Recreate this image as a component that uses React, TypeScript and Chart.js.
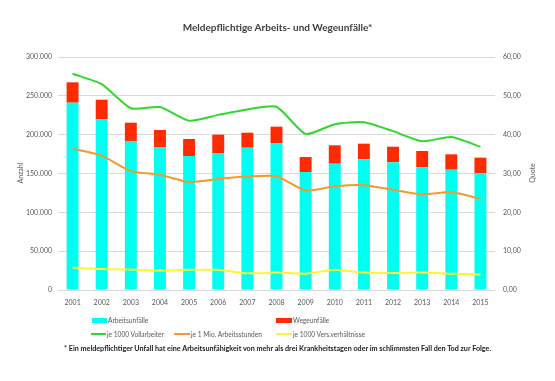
import React, { useEffect, useRef } from "react";
import { Chart, registerables } from "chart.js";

Chart.register(...registerables);

const years = ["2001","2002","2003","2004","2005","2006","2007","2008","2009","2010","2011","2012","2013","2014","2015"];
const arbeitsunfaelle = [241200,220200,191900,184100,172500,176400,183200,189300,151900,162600,168300,164400,158000,154900,150600];
const wegeunfaelle = [26200,24800,23500,21900,21900,23600,19300,21000,19300,23700,20100,20100,21000,19800,19800];
const je1000Vollarbeiter = [55.7,53.0,46.8,47.1,43.6,45.1,46.5,47.2,40.2,42.7,43.2,40.9,38.3,39.4,36.9];
const je1MioArbeitsstunden = [36.4,34.6,30.6,29.7,27.8,28.6,29.2,29.3,25.6,26.7,27.0,25.8,24.6,25.2,23.5];
const je1000VersVerh = [5.8,5.4,5.3,5.0,5.2,5.2,4.3,4.5,4.2,5.2,4.5,4.4,4.5,4.2,4.0];

const seriesNames = ["Arbeitsunfälle","Wegeunfälle","je 1000 Vollarbeiter","je 1 Mio. Arbeitsstunden","je 1000 Vers.verhältnisse"];
const colors = ["#00FFF0","#FF2A00","#2FD82F","#F29A2E","#FFF533"];
const axisTitles = ["Anzahl", "Quote"];

const title = "Meldepflichtige Arbeits- und Wegeunfälle*";
const footnote = "* Ein meldepflichtiger Unfall hat eine Arbeitsunfähigkeit von mehr als drei Krankheitstagen oder im schlimmsten Fall den Tod zur Folge.";

const FONT = "Lato, 'Open Sans', sans-serif";

export default function App() {
  const ref = useRef<HTMLCanvasElement | null>(null);
  useEffect(() => {
    if (!ref.current) return;
    const chart = new Chart(ref.current, {
      type: "bar",
      data: {
        labels: years,
        datasets: [
          { type: "bar", label: seriesNames[0], data: arbeitsunfaelle, backgroundColor: colors[0], yAxisID: "y", stack: "s", order: 2, barPercentage: 0.41, categoryPercentage: 1 },
          { type: "bar", label: seriesNames[1], data: wegeunfaelle, backgroundColor: colors[1], yAxisID: "y", stack: "s", order: 2, barPercentage: 0.41, categoryPercentage: 1 },
          { type: "line", label: seriesNames[2], data: je1000Vollarbeiter, borderColor: colors[2], borderWidth: 2, pointRadius: 0, yAxisID: "y1", tension: 0.2, order: 1 },
          { type: "line", label: seriesNames[3], data: je1MioArbeitsstunden, borderColor: colors[3], borderWidth: 2, pointRadius: 0, yAxisID: "y1", tension: 0.2, order: 1 },
          { type: "line", label: seriesNames[4], data: je1000VersVerh, borderColor: colors[4], borderWidth: 2, pointRadius: 0, yAxisID: "y1", tension: 0.2, order: 1 },
        ] as any,
      },
      options: {
        animation: false,
        responsive: false,
        maintainAspectRatio: false,
        layout: { padding: { top: 57, left: 0, right: 0, bottom: 71 } },
        plugins: { legend: { display: false }, tooltip: { enabled: false }, title: { display: false } },
        scales: {
          x: {
            stacked: true,
            grid: { display: false },
            border: { display: false },
            ticks: { color: "#595959", font: { family: FONT, size: 7 }, padding: 1, maxRotation: 0 },
            afterFit: (s: any) => { s.height = 20; },
          },
          y: {
            position: "left",
            stacked: true,
            min: 0,
            max: 300000,
            grid: { color: "#D9D9D9", drawTicks: false },
            border: { display: false },
            ticks: {
              stepSize: 50000,
              padding: 6,
              color: "#595959",
              font: { family: FONT, size: 7 },
              callback: (v: any) => Number(v).toLocaleString("de-DE"),
            },
            afterFit: (s: any) => { s.width = 58; },
          },
          y1: {
            position: "right",
            stacked: false,
            min: 0,
            max: 60,
            grid: { display: false, drawTicks: false },
            border: { display: false },
            ticks: {
              stepSize: 10,
              padding: 8,
              color: "#595959",
              font: { family: FONT, size: 7 },
              callback: (v: any) => Number(v).toLocaleString("de-DE", { minimumFractionDigits: 2, maximumFractionDigits: 2 }),
            },
            afterFit: (s: any) => { s.width = 60; },
          },
        },
      } as any,
    });
    return () => chart.destroy();
  }, []);

  const txt: React.CSSProperties = { position: "absolute", fontFamily: FONT, fontSize: 6.6, color: "#595959", whiteSpace: "nowrap", lineHeight: "8px" };
  const box = (left: number, top: number, w: number, h: number, c: string): React.CSSProperties => ({ position: "absolute", left, top, width: w, height: h, background: c });
  const vtitle = (cx: number, cy: number): React.CSSProperties => ({ ...txt, fontSize: 7, left: cx - 30, top: cy - 4, width: 60, textAlign: "center", transform: "rotate(-90deg)" });

  return (
    <div style={{ position: "absolute", left: 0, top: 0, width: 555, height: 381, background: "#fff", overflow: "hidden" }}>
      <canvas ref={ref} width={555} height={381} style={{ position: "absolute", left: 0, top: 0, width: 555, height: 381 }} />
      <div style={{ position: "absolute", left: 0, width: 555, top: 21, textAlign: "center", fontFamily: FONT, fontWeight: 700, fontSize: 10, color: "#404040", lineHeight: "12px" }}>{title}</div>
      <div style={vtitle(20, 173)}>{axisTitles[0]}</div>
      <div style={vtitle(532, 173)}>{axisTitles[1]}</div>
      <div style={box(92, 318, 15, 5, colors[0])} />
      <div style={{ ...txt, left: 108, top: 316 }}>{seriesNames[0]}</div>
      <div style={box(276, 318, 16, 5, colors[1])} />
      <div style={{ ...txt, left: 293, top: 316 }}>{seriesNames[1]}</div>
      <div style={box(91, 333, 15, 2, colors[2])} />
      <div style={{ ...txt, left: 107, top: 330 }}>{seriesNames[2]}</div>
      <div style={box(174, 333, 16, 2, colors[3])} />
      <div style={{ ...txt, left: 191, top: 330 }}>{seriesNames[3]}</div>
      <div style={box(276, 333, 16, 2, colors[4])} />
      <div style={{ ...txt, left: 293, top: 330 }}>{seriesNames[4]}</div>
      <div style={{ ...txt, left: 64, top: 345, fontWeight: 700, color: "#1a1a1a", fontSize: 7.2 }}>{footnote}</div>
    </div>
  );
}
